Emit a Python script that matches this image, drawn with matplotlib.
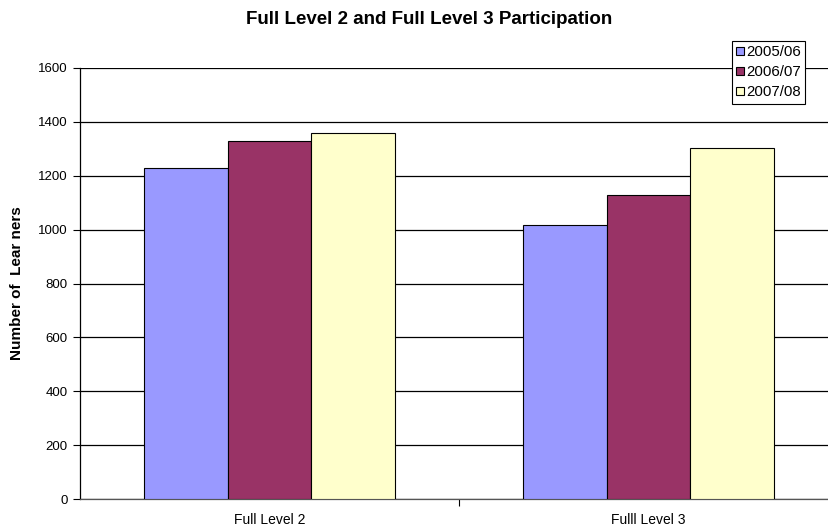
import matplotlib
matplotlib.use("Agg")
import matplotlib.pyplot as plt
import numpy as np

categories = ["Full Level 2", "Fulll Level 3"]
series_names = ["2005/06", "2006/07", "2007/08"]
v_2005 = [1230, 1018]
v_2006 = [1328, 1127]
v_2007 = [1357, 1302]
colors = ["#9999FF", "#993366", "#FFFFCC"]
yticks = [0, 200, 400, 600, 800, 1000, 1200, 1400, 1600]

plt.rcParams['font.family'] = ['Liberation Sans', 'DejaVu Sans']

fig = plt.figure(figsize=(8.29, 5.29), dpi=100)
ax = fig.add_axes([80/829, 1-499/529, 758/829, 431/529])

x = np.arange(len(categories))
bw = 0.2216
for i, (vals, c, name) in enumerate(zip([v_2005, v_2006, v_2007], colors, series_names)):
    ax.bar(x + (i-1)*bw, vals, width=bw, color=c, edgecolor="black", linewidth=0.8, label=name, zorder=3)

ax.set_xlim(-0.5, 1.5)
ax.set_ylim(0, 1600)
ax.set_yticks(yticks)
ax.set_yticklabels([str(t) for t in yticks], fontsize=9.5)
ax.yaxis.grid(True, color="black", linewidth=0.9, zorder=0)
ax.set_axisbelow(True)
ax.set_xticks(x)
ax.set_xticklabels(categories, fontsize=10)
ax.tick_params(axis='x', length=0, pad=10)
ax.set_xticks([0.5], minor=True)
ax.tick_params(axis='x', which='minor', length=5, color="black", width=0.8)
ax.tick_params(axis='y', length=5, width=0.8, pad=4)
for s in ["top", "right"]:
    ax.spines[s].set_visible(False)
ax.spines["left"].set_linewidth(0.9)
ax.spines["bottom"].set_linewidth(0.9)
ax.spines["bottom"].set_color("#555555")
ax.set_ylabel("Number of  Lear ners", fontsize=11, fontweight="bold", labelpad=10)

fig.text(429/829, 1-19/529, "Full Level 2 and Full Level 3 Participation",
         ha="center", va="center", fontsize=13.5, fontweight="bold")

leg = fig.legend(loc="upper left", bbox_to_anchor=(732/829, 1-41/529), fontsize=10.8,
                 frameon=True, fancybox=False, edgecolor="black", framealpha=1,
                 handlelength=0.5, handleheight=0.5, handletextpad=0.15,
                 borderpad=0.3, labelspacing=0.4, borderaxespad=0)
leg.get_frame().set_linewidth(0.8)

fig.savefig("out.png", dpi=100)
